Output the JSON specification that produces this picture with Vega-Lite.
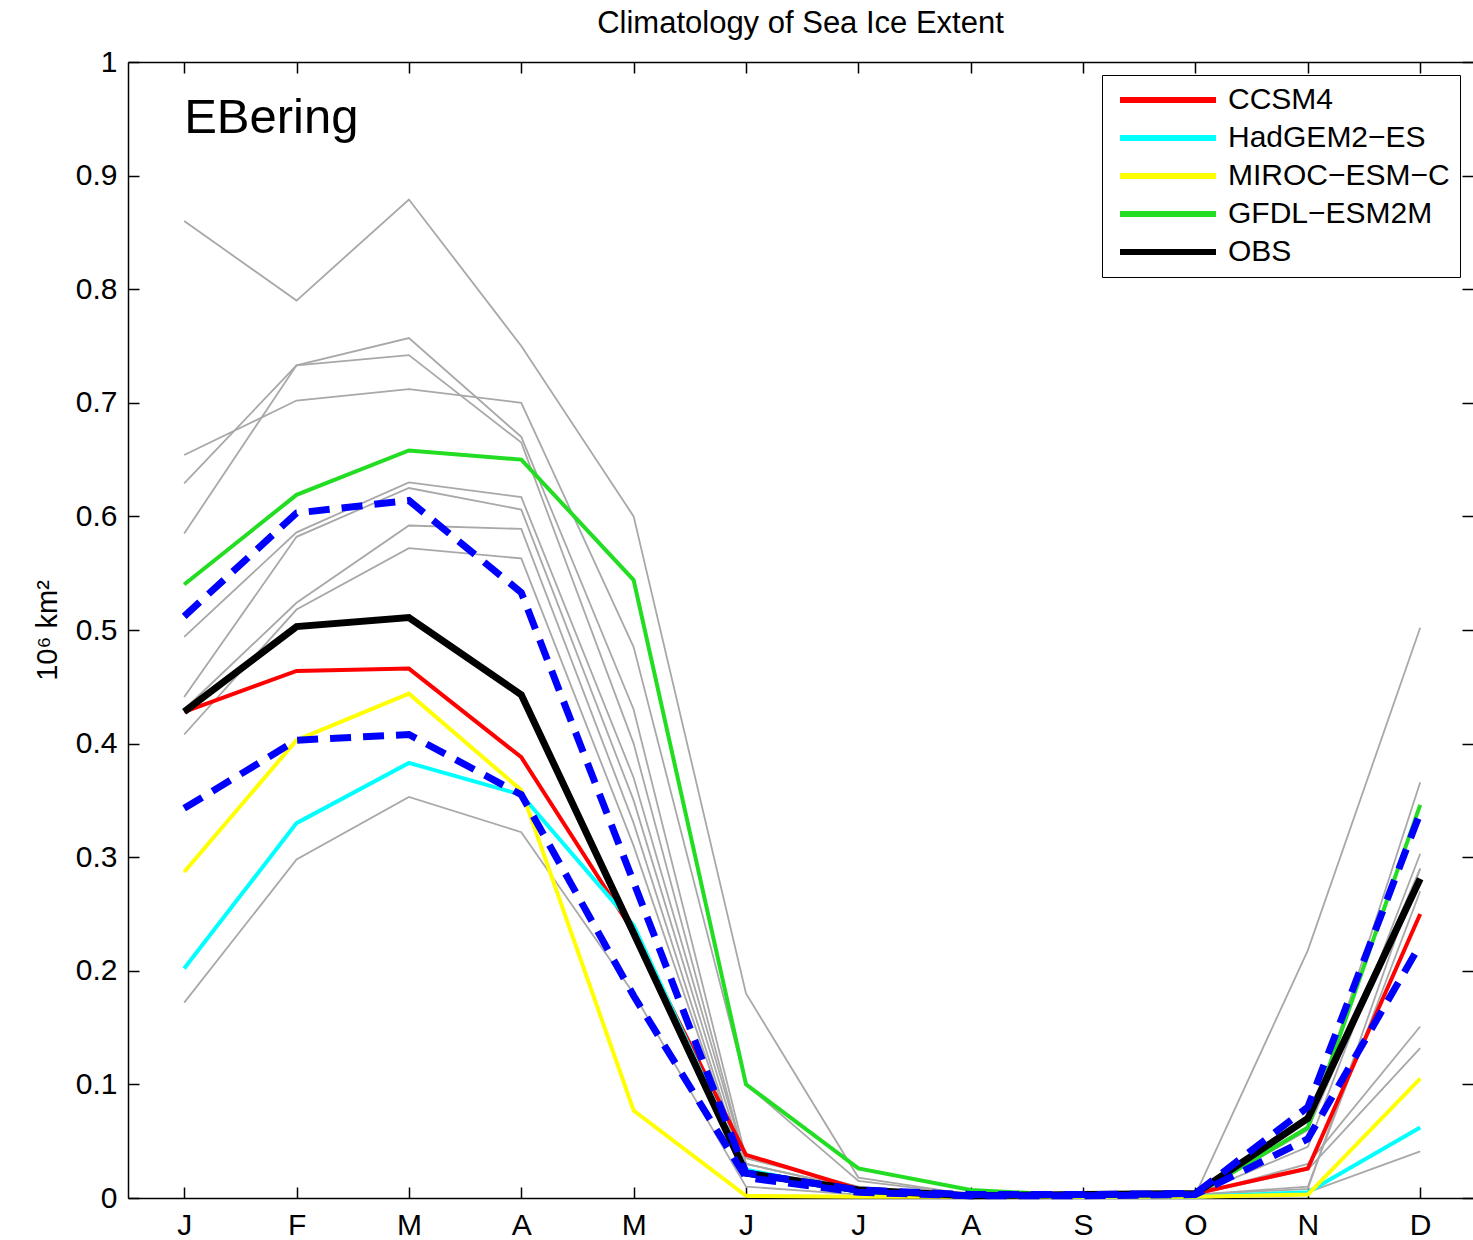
{
  "$schema": "https://vega.github.io/schema/vega-lite/v6.json",
  "autosize": {"type": "none"},
  "padding": {"left": 128, "top": 62, "right": 0, "bottom": 42},
  "width": 1345,
  "height": 1136,
  "background": "white",
  "config": {
    "view": {"stroke": null},
    "font": "Liberation Sans",
    "axis": {
      "domainColor": "black", "domainWidth": 1.5, "tickColor": "black", "tickWidth": 1.5,
      "tickSize": -11, "grid": false, "labelColor": "black", "labelFont": "Liberation Sans",
      "labelFontSize": 30, "titleFont": "Liberation Sans", "titleFontSize": 29, "titleFontWeight": "normal", "titleColor": "black"
    }
  },
  "title": {"text": "Climatology of Sea Ice Extent", "fontSize": 31, "fontWeight": "normal", "font": "Liberation Sans", "color": "black", "anchor": "middle", "offset": 7},
  "datasets": {
    "gray": [
      {"s":"G1","m":1,"v":0.86},{"s":"G1","m":2,"v":0.79},{"s":"G1","m":3,"v":0.879},{"s":"G1","m":4,"v":0.75},{"s":"G1","m":5,"v":0.6},{"s":"G1","m":6,"v":0.18},{"s":"G1","m":7,"v":0.018},{"s":"G1","m":8,"v":0.003},{"s":"G1","m":9,"v":0.002},{"s":"G1","m":10,"v":0.003},{"s":"G1","m":11,"v":0.218},{"s":"G1","m":12,"v":0.502},
      {"s":"G2","m":1,"v":0.654},{"s":"G2","m":2,"v":0.702},{"s":"G2","m":3,"v":0.712},{"s":"G2","m":4,"v":0.7},{"s":"G2","m":5,"v":0.485},{"s":"G2","m":6,"v":0.1},{"s":"G2","m":7,"v":0.015},{"s":"G2","m":8,"v":0.003},{"s":"G2","m":9,"v":0.002},{"s":"G2","m":10,"v":0.003},{"s":"G2","m":11,"v":0.06},{"s":"G2","m":12,"v":0.366},
      {"s":"G3","m":1,"v":0.629},{"s":"G3","m":2,"v":0.733},{"s":"G3","m":3,"v":0.757},{"s":"G3","m":4,"v":0.67},{"s":"G3","m":5,"v":0.43},{"s":"G3","m":6,"v":0.035},{"s":"G3","m":7,"v":0.01},{"s":"G3","m":8,"v":0.002},{"s":"G3","m":9,"v":0.002},{"s":"G3","m":10,"v":0.003},{"s":"G3","m":11,"v":0.045},{"s":"G3","m":12,"v":0.303},
      {"s":"G4","m":1,"v":0.585},{"s":"G4","m":2,"v":0.733},{"s":"G4","m":3,"v":0.742},{"s":"G4","m":4,"v":0.665},{"s":"G4","m":5,"v":0.4},{"s":"G4","m":6,"v":0.03},{"s":"G4","m":7,"v":0.008},{"s":"G4","m":8,"v":0.002},{"s":"G4","m":9,"v":0.002},{"s":"G4","m":10,"v":0.003},{"s":"G4","m":11,"v":0.03},{"s":"G4","m":12,"v":0.151},
      {"s":"G5","m":1,"v":0.494},{"s":"G5","m":2,"v":0.586},{"s":"G5","m":3,"v":0.63},{"s":"G5","m":4,"v":0.617},{"s":"G5","m":5,"v":0.37},{"s":"G5","m":6,"v":0.03},{"s":"G5","m":7,"v":0.008},{"s":"G5","m":8,"v":0.002},{"s":"G5","m":9,"v":0.002},{"s":"G5","m":10,"v":0.003},{"s":"G5","m":11,"v":0.025},{"s":"G5","m":12,"v":0.132},
      {"s":"G6","m":1,"v":0.441},{"s":"G6","m":2,"v":0.582},{"s":"G6","m":3,"v":0.625},{"s":"G6","m":4,"v":0.606},{"s":"G6","m":5,"v":0.35},{"s":"G6","m":6,"v":0.025},{"s":"G6","m":7,"v":0.006},{"s":"G6","m":8,"v":0.002},{"s":"G6","m":9,"v":0.002},{"s":"G6","m":10,"v":0.003},{"s":"G6","m":11,"v":0.06},{"s":"G6","m":12,"v":0.29},
      {"s":"G7","m":1,"v":0.43},{"s":"G7","m":2,"v":0.524},{"s":"G7","m":3,"v":0.592},{"s":"G7","m":4,"v":0.589},{"s":"G7","m":5,"v":0.33},{"s":"G7","m":6,"v":0.02},{"s":"G7","m":7,"v":0.005},{"s":"G7","m":8,"v":0.002},{"s":"G7","m":9,"v":0.002},{"s":"G7","m":10,"v":0.003},{"s":"G7","m":11,"v":0.01},{"s":"G7","m":12,"v":0.27},
      {"s":"G8","m":1,"v":0.408},{"s":"G8","m":2,"v":0.518},{"s":"G8","m":3,"v":0.572},{"s":"G8","m":4,"v":0.563},{"s":"G8","m":5,"v":0.31},{"s":"G8","m":6,"v":0.02},{"s":"G8","m":7,"v":0.005},{"s":"G8","m":8,"v":0.002},{"s":"G8","m":9,"v":0.002},{"s":"G8","m":10,"v":0.003},{"s":"G8","m":11,"v":0.008},{"s":"G8","m":12,"v":0.29},
      {"s":"G9","m":1,"v":0.172},{"s":"G9","m":2,"v":0.298},{"s":"G9","m":3,"v":0.353},{"s":"G9","m":4,"v":0.322},{"s":"G9","m":5,"v":0.18},{"s":"G9","m":6,"v":0.01},{"s":"G9","m":7,"v":0.003},{"s":"G9","m":8,"v":0.001},{"s":"G9","m":9,"v":0.001},{"s":"G9","m":10,"v":0.002},{"s":"G9","m":11,"v":0.005},{"s":"G9","m":12,"v":0.041}
    ],
    "models": [
      {"s":"CCSM4","m":1,"v":0.428},{"s":"CCSM4","m":2,"v":0.464},{"s":"CCSM4","m":3,"v":0.466},{"s":"CCSM4","m":4,"v":0.388},{"s":"CCSM4","m":5,"v":0.234},{"s":"CCSM4","m":6,"v":0.038},{"s":"CCSM4","m":7,"v":0.008},{"s":"CCSM4","m":8,"v":0.002},{"s":"CCSM4","m":9,"v":0.003},{"s":"CCSM4","m":10,"v":0.004},{"s":"CCSM4","m":11,"v":0.026},{"s":"CCSM4","m":12,"v":0.25},
      {"s":"HadGEM2-ES","m":1,"v":0.202},{"s":"HadGEM2-ES","m":2,"v":0.33},{"s":"HadGEM2-ES","m":3,"v":0.383},{"s":"HadGEM2-ES","m":4,"v":0.355},{"s":"HadGEM2-ES","m":5,"v":0.24},{"s":"HadGEM2-ES","m":6,"v":0.025},{"s":"HadGEM2-ES","m":7,"v":0.005},{"s":"HadGEM2-ES","m":8,"v":0.001},{"s":"HadGEM2-ES","m":9,"v":0.001},{"s":"HadGEM2-ES","m":10,"v":0.001},{"s":"HadGEM2-ES","m":11,"v":0.005},{"s":"HadGEM2-ES","m":12,"v":0.062},
      {"s":"MIROC-ESM-C","m":1,"v":0.287},{"s":"MIROC-ESM-C","m":2,"v":0.403},{"s":"MIROC-ESM-C","m":3,"v":0.444},{"s":"MIROC-ESM-C","m":4,"v":0.359},{"s":"MIROC-ESM-C","m":5,"v":0.077},{"s":"MIROC-ESM-C","m":6,"v":0.002},{"s":"MIROC-ESM-C","m":7,"v":0.001},{"s":"MIROC-ESM-C","m":8,"v":0.001},{"s":"MIROC-ESM-C","m":9,"v":0.001},{"s":"MIROC-ESM-C","m":10,"v":0.001},{"s":"MIROC-ESM-C","m":11,"v":0.003},{"s":"MIROC-ESM-C","m":12,"v":0.105},
      {"s":"GFDL-ESM2M","m":1,"v":0.54},{"s":"GFDL-ESM2M","m":2,"v":0.619},{"s":"GFDL-ESM2M","m":3,"v":0.658},{"s":"GFDL-ESM2M","m":4,"v":0.65},{"s":"GFDL-ESM2M","m":5,"v":0.544},{"s":"GFDL-ESM2M","m":6,"v":0.1},{"s":"GFDL-ESM2M","m":7,"v":0.026},{"s":"GFDL-ESM2M","m":8,"v":0.007},{"s":"GFDL-ESM2M","m":9,"v":0.002},{"s":"GFDL-ESM2M","m":10,"v":0.003},{"s":"GFDL-ESM2M","m":11,"v":0.062},{"s":"GFDL-ESM2M","m":12,"v":0.346},
      {"s":"OBS","m":1,"v":0.428},{"s":"OBS","m":2,"v":0.503},{"s":"OBS","m":3,"v":0.511},{"s":"OBS","m":4,"v":0.443},{"s":"OBS","m":5,"v":0.233},{"s":"OBS","m":6,"v":0.022},{"s":"OBS","m":7,"v":0.007},{"s":"OBS","m":8,"v":0.002},{"s":"OBS","m":9,"v":0.003},{"s":"OBS","m":10,"v":0.004},{"s":"OBS","m":11,"v":0.07},{"s":"OBS","m":12,"v":0.281}
    ],
    "bounds": [
      {"s":"upper","m":1,"v":0.512},{"s":"upper","m":2,"v":0.603},{"s":"upper","m":3,"v":0.614},{"s":"upper","m":4,"v":0.533},{"s":"upper","m":5,"v":0.278},{"s":"upper","m":6,"v":0.022},{"s":"upper","m":7,"v":0.007},{"s":"upper","m":8,"v":0.003},{"s":"upper","m":9,"v":0.003},{"s":"upper","m":10,"v":0.004},{"s":"upper","m":11,"v":0.08},{"s":"upper","m":12,"v":0.339},
      {"s":"lower","m":1,"v":0.343},{"s":"lower","m":2,"v":0.403},{"s":"lower","m":3,"v":0.408},{"s":"lower","m":4,"v":0.355},{"s":"lower","m":5,"v":0.178},{"s":"lower","m":6,"v":0.018},{"s":"lower","m":7,"v":0.005},{"s":"lower","m":8,"v":0.002},{"s":"lower","m":9,"v":0.002},{"s":"lower","m":10,"v":0.003},{"s":"lower","m":11,"v":0.052},{"s":"lower","m":12,"v":0.223}
    ],
    "label": [{"name": "EBering"}]
  },
  "layer": [
    {
      "data": {"name": "gray"},
      "mark": {"type": "line", "color": "#a8a8a8", "strokeWidth": 1.8},
      "encoding": {
        "x": {"field": "m", "type": "quantitative", "scale": {"domain": [0.5, 12.47], "nice": false, "zero": false},
          "axis": {"orient": "bottom", "values": [1,2,3,4,5,6,7,8,9,10,11,12], "labelExpr": "['J','F','M','A','M','J','J','A','S','O','N','D'][datum.value-1]", "title": null, "labelPadding": 23, "domain": true}},
        "y": {"field": "v", "type": "quantitative", "scale": {"domain": [0, 1], "nice": false},
          "axis": {"orient": "left", "values": [0,0.1,0.2,0.3,0.4,0.5,0.6,0.7,0.8,0.9,1], "format": ".1~f", "title": "10⁶ km²", "titlePadding": 13, "labelPadding": 22}},
        "detail": {"field": "s"}
      }
    },
    {
      "data": {"name": "models"},
      "mark": {"type": "line"},
      "encoding": {
        "x": {"field": "m", "type": "quantitative", "axis": {"orient": "top", "values": [1,2,3,4,5,6,7,8,9,10,11,12], "labels": false, "title": null}},
        "y": {"field": "v", "type": "quantitative", "axis": {"orient": "right", "values": [0,0.1,0.2,0.3,0.4,0.5,0.6,0.7,0.8,0.9,1], "labels": false, "domain": false, "title": null}},
        "color": {"field": "s", "type": "nominal",
          "scale": {"domain": ["CCSM4","HadGEM2-ES","MIROC-ESM-C","GFDL-ESM2M","OBS"], "range": ["#ff0000","#00ffff","#ffff00","#22dd22","#000000"]},
          "legend": {"orient": "none", "legendX": 974, "legendY": 13, "title": null, "symbolType": "M-1.4,0H17.8", "symbolSize": 100, "symbolStrokeWidth": 6, "labelFontSize": 30, "labelFont": "Liberation Sans", "labelColor": "black", "labelOffset": 86, "labelExpr": "join(split(datum.label, '-'), '−')", "padding": 10, "rowPadding": 8, "strokeColor": "black", "fillColor": "white", "labelLimit": 400}},
        "strokeWidth": {"condition": {"test": "datum.s === 'OBS'", "value": 7}, "value": 4}
      }
    },
    {
      "data": {"name": "bounds"},
      "mark": {"type": "line", "color": "#0000ff", "strokeWidth": 7, "strokeDash": [21, 12]},
      "encoding": {
        "x": {"field": "m", "type": "quantitative", "axis": null},
        "y": {"field": "v", "type": "quantitative", "axis": null},
        "detail": {"field": "s"}
      }
    },
    {
      "data": {"name": "label"},
      "mark": {"type": "text", "align": "left", "baseline": "middle", "fontSize": 49, "font": "Liberation Sans", "color": "black"},
      "encoding": {
        "x": {"datum": 1, "type": "quantitative", "axis": null},
        "y": {"datum": 0.951, "type": "quantitative", "axis": null},
        "text": {"field": "name"}
      }
    }
  ],
  "resolve": {"axis": {"x": "independent", "y": "independent"}}
}
